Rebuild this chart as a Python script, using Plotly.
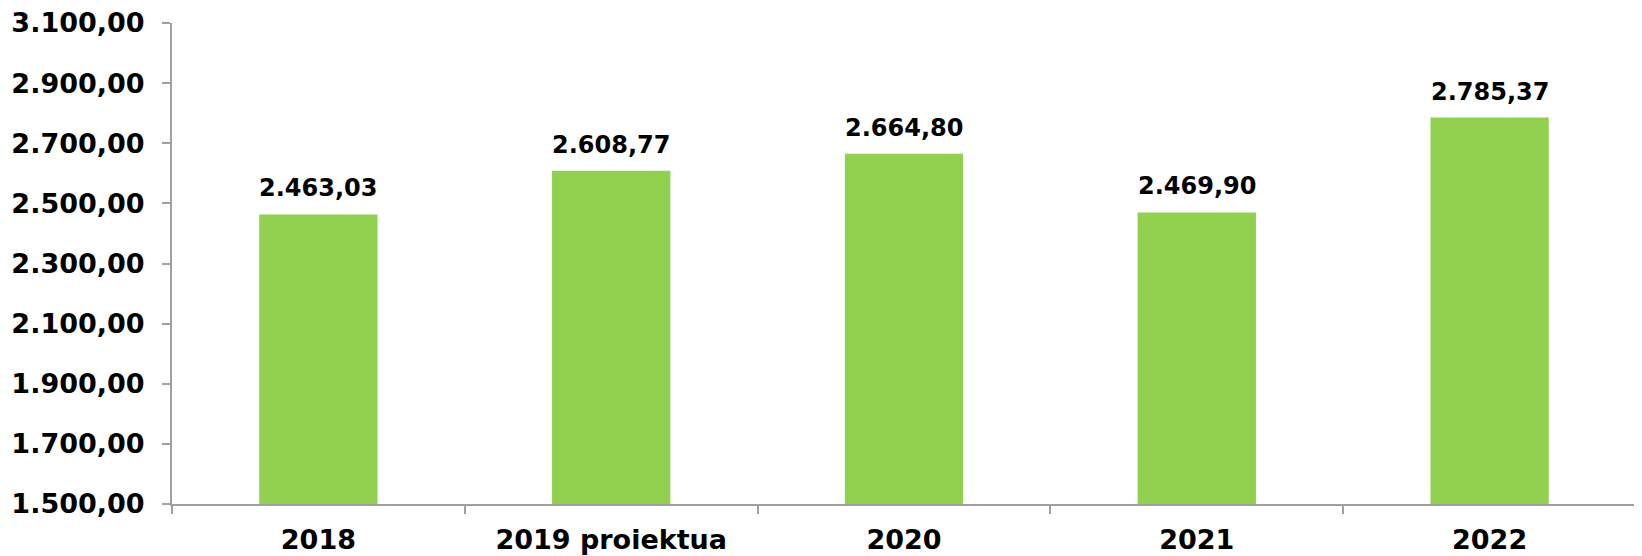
import plotly.graph_objects as go

categories = ["2018", "2019 proiektua", "2020", "2021", "2022"]
values = [2463.03, 2608.77, 2664.80, 2469.90, 2785.37]
y_ticks = [1500, 1700, 1900, 2100, 2300, 2500, 2700, 2900, 3100]

FONT = "Verdana, DejaVu Sans, sans-serif"

fig = go.Figure(go.Bar(
    x=categories, y=values,
    marker=dict(color="#92D050", line=dict(width=0)),
    width=0.404,
    hoverinfo="skip",
))

for i, v in enumerate(values):
    fig.add_annotation(
        x=i, y=v, text=f"{v:,.2f}".replace(",", "X").replace(".", ",").replace("X", "."),
        showarrow=False, yanchor="bottom", yshift=10,
        font=dict(family=FONT, size=24, color="#000000", weight="bold"),
    )

# page body has an 8px default margin; figure sized/offset to compensate
fig.update_layout(
    width=1634, height=548,
    margin=dict(l=164, r=6, t=15, b=52),
    paper_bgcolor="white", plot_bgcolor="white",
    separators=",.",
    showlegend=False,
    font=dict(family=FONT, color="#000000"),
)
fig.update_xaxes(
    type="category", range=[-0.5, 4.5], autorange=False, automargin=False,
    showgrid=False, zeroline=False,
    showline=True, linecolor="#A0A0A0", linewidth=2,
    ticks="outside", tickson="boundaries", ticklen=8, tickwidth=2, tickcolor="#A0A0A0",
    tickfont=dict(family=FONT, size=27, color="#000000", weight="bold"),
    tickangle=0, ticklabelstandoff=11,
)
fig.update_yaxes(
    range=[1500, 3100], autorange=False, automargin=False, tickvals=y_ticks, tickformat=",.2f",
    showgrid=False, zeroline=False,
    showline=True, linecolor="#A0A0A0", linewidth=2,
    ticks="outside", ticklen=8, tickwidth=2, tickcolor="#A0A0A0",
    tickfont=dict(family=FONT, size=27, color="#000000", weight="bold"),
    ticklabelstandoff=12, ticklabeloverflow="allow",
)

fig.write_html("out.html")
